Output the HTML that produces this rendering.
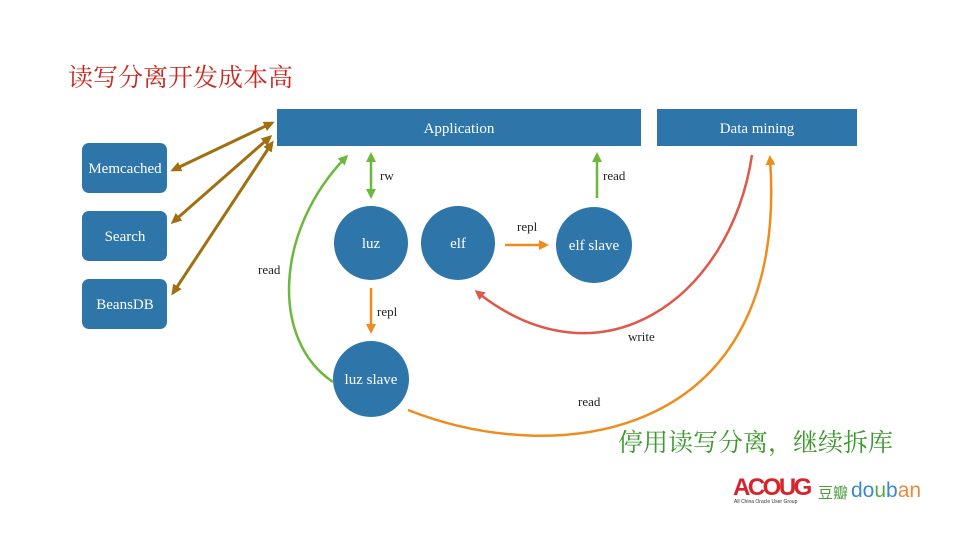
<!DOCTYPE html>
<html><head><meta charset="utf-8"><style>
body{margin:0;width:960px;height:540px;background:#fff;overflow:hidden;position:relative;font-family:"Liberation Serif",serif}
.t{position:absolute;white-space:nowrap}
</style></head><body>
<svg width="960" height="540" style="position:absolute;left:0;top:0" font-family="Liberation Serif, serif">
<defs>
<marker id="mb" markerWidth="11" markerHeight="10" refX="8" refY="5" orient="auto-start-reverse" markerUnits="userSpaceOnUse"><path d="M0,0 L11,5 L0,10 Z" fill="#a07010"/></marker>
<marker id="mg" markerWidth="10" markerHeight="10" refX="7" refY="5" orient="auto-start-reverse" markerUnits="userSpaceOnUse"><path d="M0,0 L10,5 L0,10 Z" fill="#6cb83c"/></marker>
<marker id="mo" markerWidth="10" markerHeight="10" refX="7" refY="5" orient="auto" markerUnits="userSpaceOnUse"><path d="M0,0 L10,5 L0,10 Z" fill="#ef8c1e"/></marker>
<marker id="mr" markerWidth="10" markerHeight="10" refX="7" refY="5" orient="auto" markerUnits="userSpaceOnUse"><path d="M0,0 L10,5 L0,10 Z" fill="#e0584a"/></marker>
</defs>
<rect x="277" y="109" width="364" height="37" fill="#2e76a9"/>
<rect x="657" y="109" width="200" height="37" fill="#2e76a9"/>
<rect x="82" y="143" width="85" height="50" rx="7" fill="#2e76a9"/>
<rect x="82" y="211" width="85" height="50" rx="7" fill="#2e76a9"/>
<rect x="82" y="279" width="85" height="50" rx="7" fill="#2e76a9"/>
<circle cx="371" cy="243" r="37" fill="#2e76a9"/>
<circle cx="458" cy="243" r="37" fill="#2e76a9"/>
<circle cx="594" cy="245" r="38" fill="#2e76a9"/>
<circle cx="371" cy="379" r="38" fill="#2e76a9"/>
<g stroke="#a07010" stroke-width="3" fill="none" marker-start="url(#mb)" marker-end="url(#mb)">
<line x1="173" y1="170" x2="272" y2="123"/>
<line x1="173" y1="222" x2="270" y2="137"/>
<line x1="173" y1="293" x2="272" y2="143"/>
</g>
<line x1="371" y1="155" x2="371" y2="196" stroke="#6cb83c" stroke-width="2.5" marker-start="url(#mg)" marker-end="url(#mg)"/>
<line x1="597" y1="198" x2="597" y2="155" stroke="#6cb83c" stroke-width="2.5" marker-end="url(#mg)"/>
<line x1="505" y1="245" x2="546" y2="245" stroke="#ef8c1e" stroke-width="2.5" marker-end="url(#mo)"/>
<line x1="371" y1="288" x2="371" y2="331" stroke="#ef8c1e" stroke-width="2.5" marker-end="url(#mo)"/>
<path d="M333,382 C270,340 275,230 346,157" stroke="#6cb83c" stroke-width="2.5" fill="none" marker-end="url(#mg)"/>
<path d="M752,155 C730,300 600,390 477,292" stroke="#e0584a" stroke-width="2.5" fill="none" marker-end="url(#mr)"/>
<path d="M408,410 C560,470 790,440 770,158" stroke="#ef8c1e" stroke-width="2.5" fill="none" marker-end="url(#mo)"/>
<g fill="#fff" font-size="15" text-anchor="middle">
<text x="459" y="133">Application</text>
<text x="757" y="133">Data mining</text>
<text x="125" y="173">Memcached</text>
<text x="125" y="241">Search</text>
<text x="125" y="309">BeansDB</text>
<text x="371" y="248">luz</text>
<text x="458" y="248">elf</text>
<text x="594" y="250">elf slave</text>
<text x="371" y="384">luz slave</text>
</g>
<g fill="#222" font-size="13">
<text x="380" y="180">rw</text>
<text x="603" y="180">read</text>
<text x="517" y="231">repl</text>
<text x="377" y="316">repl</text>
<text x="258" y="274">read</text>
<text x="628" y="341">write</text>
<text x="578" y="406">read</text>
</g>
</svg>
<div class="t" style="left:68px;top:58px;font-size:25px;color:#c8281e;font-family:'Liberation Serif','Noto Serif CJK SC',serif">读写分离开发成本高</div>
<div class="t" style="left:618px;top:423px;font-size:25px;color:#3c9a2c;font-family:'Liberation Serif','Noto Serif CJK SC',serif">停用读写分离，继续拆库</div>
<div class="t" style="left:733px;top:474px;font-size:24px;font-weight:bold;color:#d8232a;font-family:'Liberation Sans',sans-serif;letter-spacing:-2.5px">ACOUG</div>
<div class="t" style="left:734px;top:499px;font-size:5px;color:#333;font-family:'Liberation Sans',sans-serif">All China Oracle User Group</div>
<div class="t" style="left:818px;top:482px;font-size:15px;color:#4a9a3a;font-family:'Noto Sans CJK SC',sans-serif">豆瓣</div>
<div class="t" style="left:851px;top:479px;font-size:21px;font-family:'Liberation Sans',sans-serif"><span style="color:#3a8ac8">do</span><span style="color:#5aaa4a">u</span><span style="color:#3a8ac8">b</span><span style="color:#e88a3a">an</span></div>
</body></html>
